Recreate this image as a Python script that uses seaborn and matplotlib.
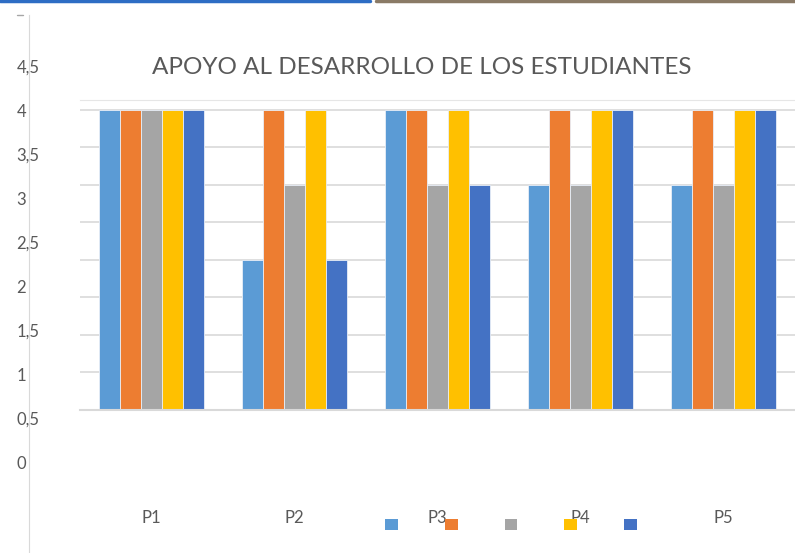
import pandas as pd
import numpy as np
import matplotlib.pyplot as plt
import seaborn as sns
from matplotlib.patches import Rectangle
from matplotlib.lines import Line2D

# datos del grafico
preguntas = ["P1", "P2", "P3", "P4", "P5"]
series = ["Serie 1", "Serie 2", "Serie 3", "Serie 4", "Serie 5"]
serie1 = [4, 2, 4, 3, 3]
serie2 = [4, 4, 4, 4, 4]
serie3 = [4, 3, 3, 3, 3]
serie4 = [4, 4, 4, 4, 4]
serie5 = [4, 2, 3, 4, 4]
colores = ["#5B9BD5", "#ED7D31", "#A5A5A5", "#FFC000", "#4472C4"]
etiquetas_y = ["0", "0,5", "1", "1,5", "2", "2,5", "3", "3,5", "4", "4,5"]
titulo = "APOYO AL DESARROLLO DE LOS ESTUDIANTES"

valores = [serie1, serie2, serie3, serie4, serie5]
df = pd.DataFrame({
    "pregunta": preguntas * len(series),
    "serie": [s for s in series for _ in preguntas],
    "valor": [v for fila in valores for v in fila],
})

sns.set_style("white")
plt.rcParams['font.family'] = ['Lato', 'DejaVu Sans']
gris = "#595959"
linea = "#D9D9D9"

W, H = 795, 553
fig = plt.figure(figsize=(W / 100, H / 100), dpi=100)

# ejes principales (barras)
ax = fig.add_axes([80 / W, 1 - 410 / H, 1 - 80 / W, 310 / H])
sns.barplot(data=df, x="pregunta", y="valor", hue="serie", palette=colores,
            saturation=1, width=0.74, edgecolor="#E8EEF7", linewidth=0.6,
            legend=False, ax=ax)
ax.set_ylim(0, 4.133)
ax.set_xlim(-0.5, 4.5)
ax.set_yticks(np.arange(0, 4.01, 0.5))
ax.yaxis.grid(True, color=linea, linewidth=1.2)
ax.set_axisbelow(True)
ax.set_yticklabels([])
ax.tick_params(axis="y", length=0)
ax.tick_params(axis="x", length=0, pad=72, labelsize=12, labelcolor=gris)
ax.set_xlabel("")
ax.set_ylabel("")
for s in ["left", "right"]:
    ax.spines[s].set_visible(False)
ax.spines["top"].set_color("#E6E6E6")
ax.spines["bottom"].set_color(linea)
ax.spines["bottom"].set_linewidth(1.5)

# eje vertical desplazado con sus etiquetas
ax2 = fig.add_axes([29 / W, 0, 0.001, 1 - 15 / H])
ax2.set_ylim(-(553 - 462.5) / 88.1, 4.5 + (66 - 15) / 88.1)
ax2.set_yticks(np.arange(0, 4.51, 0.5))
ax2.set_yticklabels(etiquetas_y, ha="left")
ax2.tick_params(axis="y", length=0, pad=9, labelsize=12, labelcolor=gris)
ax2.set_xticks([])
ax2.patch.set_visible(False)
for s in ["right", "top", "bottom"]:
    ax2.spines[s].set_visible(False)
ax2.spines["left"].set_color(linea)

fig.text(422 / W, 1 - 68 / H, titulo, ha="center", va="center",
         fontsize=17.5, color=gris)

# leyenda sin textos
handles = [Rectangle((0, 0), 1, 1, facecolor=c, edgecolor="none") for c in colores]
fig.legend(handles, [""] * 5, ncol=5, loc="center",
           bbox_to_anchor=(511 / W, 1 - 525 / H), frameon=False,
           handlelength=0.9, handleheight=0.9, handletextpad=0,
           columnspacing=3.4, fontsize=10)

# marcas sueltas de la captura
fig.add_artist(Line2D([17 / W, 23 / W], [1 - 15 / H, 1 - 15 / H], color="#A6A6A6", lw=1))
fig.add_artist(Line2D([0, 370 / W], [1 - 1 / H, 1 - 1 / H], color="#2E6DC4", lw=2.5))
fig.add_artist(Line2D([376 / W, 1], [1 - 1 / H, 1 - 1 / H], color="#8A7A66", lw=2.5))

fig.savefig("out.png", dpi=100)
